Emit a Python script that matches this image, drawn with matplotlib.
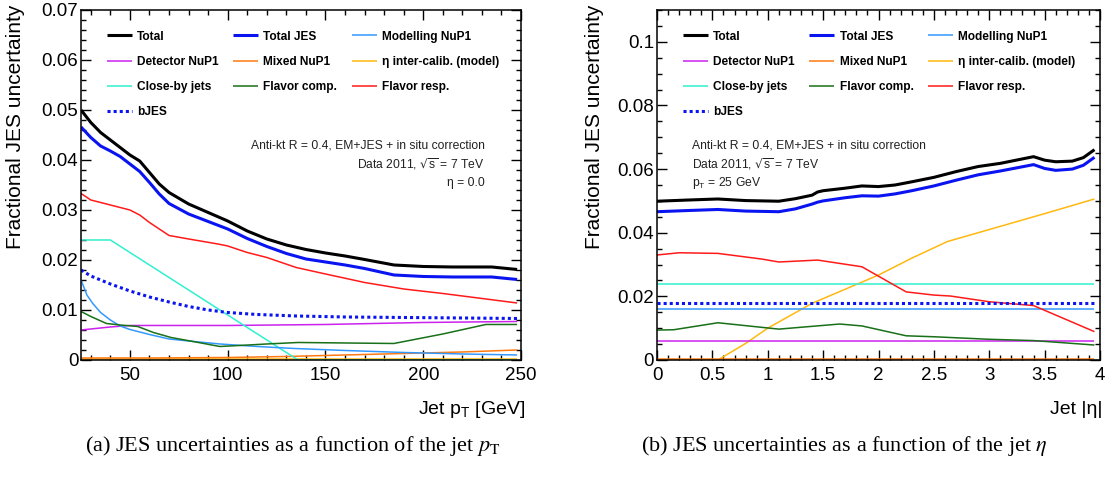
import matplotlib
matplotlib.use("Agg")
import matplotlib.pyplot as plt
from matplotlib.ticker import MultipleLocator

plt.rcParams['font.family'] = ['Liberation Sans', 'DejaVu Sans']

# ---- left panel: uncertainty vs jet pT (eta = 0) ----
pt_total = [25, 30, 35, 40, 45, 50, 55, 60, 65, 70, 80, 90, 100, 110, 120, 130, 140,
            150, 160, 170, 185, 200, 215, 235, 248]
total_pt = [0.0500, 0.0475, 0.0455, 0.0440, 0.0425, 0.0410, 0.0398, 0.0375, 0.0352,
            0.0335, 0.0312, 0.0295, 0.0278, 0.0258, 0.0242, 0.0230, 0.0221, 0.0214,
            0.0208, 0.0201, 0.0190, 0.0187, 0.0186, 0.0186, 0.0181]
totjes_pt = [0.0466, 0.0445, 0.0428, 0.0418, 0.0407, 0.0392, 0.0377, 0.0355, 0.0332,
             0.0313, 0.0292, 0.0277, 0.0262, 0.0243, 0.0227, 0.0213, 0.0202, 0.0196,
             0.0190, 0.0183, 0.0170, 0.0167, 0.0166, 0.0166, 0.0161]

pt_model = [25, 28, 31, 35, 40, 45, 50, 55, 60, 70, 80, 96, 115, 134, 160, 190, 220, 248]
model_pt = [0.0160, 0.0130, 0.0113, 0.0095, 0.0080, 0.0068, 0.0061, 0.0056, 0.0051,
            0.0042, 0.0038, 0.0032, 0.0027, 0.0023, 0.0019, 0.0015, 0.0012, 0.0010]

pt_det = [25, 40, 50, 100, 150, 200, 248]
det_pt = [0.0060, 0.0066, 0.0069, 0.0069, 0.0071, 0.0075, 0.0077]

pt_mixed = [25, 60, 100, 130, 160, 190, 220, 248]
mixed_pt = [0.0004, 0.0004, 0.0005, 0.0007, 0.0010, 0.0013, 0.0016, 0.0020]

pt_etaic = [25, 248]
etaic_pt = [0.0002, 0.0002]

pt_close = [25, 40, 136, 248]
close_pt = [0.024, 0.024, 0.0, 0.0]

pt_fcomp = [25, 30, 38, 45, 54, 62, 71, 85, 96, 106, 120, 136, 160, 185, 210, 232, 248]
fcomp_pt = [0.0097, 0.0087, 0.0073, 0.0070, 0.0067, 0.0055, 0.0045, 0.0035, 0.0027,
            0.0029, 0.0032, 0.0035, 0.0034, 0.0033, 0.0052, 0.0071, 0.0071]

pt_fresp = [25, 30, 40, 50, 55, 60, 70, 80, 95, 100, 110, 120, 135, 150, 170, 190, 210, 230, 248]
fresp_pt = [0.0333, 0.0320, 0.0310, 0.0300, 0.0290, 0.0275, 0.0249, 0.0242, 0.0232,
            0.0228, 0.0215, 0.0205, 0.0185, 0.0172, 0.0155, 0.0142, 0.0133, 0.0123, 0.0114]

pt_bjes = [25, 30, 35, 40, 50, 60, 70, 80, 90, 100, 115, 135, 160, 190, 220, 248]
bjes_pt = [0.0180, 0.0168, 0.0160, 0.0152, 0.0138, 0.0126, 0.0116, 0.0107, 0.0100,
           0.0095, 0.0091, 0.0088, 0.0086, 0.0085, 0.0084, 0.0083]

# ---- right panel: uncertainty vs |eta| (pT = 25 GeV) ----
eta_total = [0, 0.15, 0.3, 0.55, 0.8, 1.1, 1.25, 1.4, 1.45, 1.5, 1.7, 1.85, 2.0, 2.15,
             2.3, 2.5, 2.7, 2.9, 3.1, 3.4, 3.5, 3.6, 3.75, 3.85, 3.95]
total_eta = [0.0499, 0.0501, 0.0503, 0.0506, 0.0501, 0.0499, 0.0507, 0.0518, 0.0528,
             0.0532, 0.0540, 0.0547, 0.0545, 0.0550, 0.0560, 0.0574, 0.0592, 0.0608,
             0.0618, 0.0639, 0.0628, 0.0623, 0.0625, 0.0636, 0.0661]
totjes_eta = [0.0466, 0.0468, 0.0470, 0.0473, 0.0468, 0.0466, 0.0475, 0.0490, 0.0496,
              0.0500, 0.0510, 0.0516, 0.0515, 0.0522, 0.0532, 0.0547, 0.0565, 0.0582,
              0.0594, 0.0614, 0.0602, 0.0596, 0.0600, 0.0612, 0.0637]

eta_flat = [0, 3.95]
model_eta = [0.016, 0.016]
det_eta = [0.006, 0.006]
mixed_eta = [0.0003, 0.0003]
close_eta = [0.024, 0.024]
bjes_eta = [0.018, 0.018]

eta_ic = [0, 0.55, 0.8, 1.0, 1.4, 2.0, 2.3, 2.62, 3.0, 3.5, 3.95]
etaic_eta = [0.0, 0.0, 0.0052, 0.0100, 0.0178, 0.0267, 0.0320, 0.0372, 0.0410, 0.0460, 0.0506]

eta_fcomp = [0, 0.15, 0.55, 1.1, 1.65, 1.85, 2.25, 2.5, 3.0, 3.4, 3.95]
fcomp_eta = [0.0094, 0.0095, 0.0117, 0.0097, 0.0113, 0.0107, 0.0076, 0.0073, 0.0065, 0.0061, 0.0047]

eta_fresp = [0, 0.2, 0.55, 0.95, 1.1, 1.45, 1.85, 2.25, 2.5, 2.65, 3.0, 3.4, 3.95]
fresp_eta = [0.0330, 0.0337, 0.0335, 0.0317, 0.0308, 0.0314, 0.0293, 0.0214, 0.0204,
             0.0201, 0.0183, 0.0171, 0.0089]

labels = ['Total', 'Total JES', 'Modelling NuP1', 'Detector NuP1', 'Mixed NuP1',
          'η inter-calib. (model)', 'Close-by jets', 'Flavor comp.', 'Flavor resp.', 'bJES']
styles = [
    dict(color='black', lw=2.2),
    dict(color='#0a14f0', lw=2.2),
    dict(color='#3399ff', lw=1.1),
    dict(color='#cc22ee', lw=1.1),
    dict(color='#ff7a10', lw=1.1),
    dict(color='#ffb810', lw=1.1),
    dict(color='#30f0d0', lw=1.1),
    dict(color='#187018', lw=1.1),
    dict(color='#ff1a1a', lw=1.1),
    dict(color='#0a14f0', lw=2.2, ls=(0, (1, 1))),
]

fig = plt.figure(figsize=(11.1, 4.78), dpi=100)
ax1 = fig.add_axes([0.0730, 0.2469, 0.3964, 0.7322])
ax2 = fig.add_axes([0.5919, 0.2469, 0.3991, 0.7322])

left_series = [(pt_total, total_pt), (pt_total, totjes_pt), (pt_model, model_pt),
               (pt_det, det_pt), (pt_mixed, mixed_pt), (pt_etaic, etaic_pt),
               (pt_close, close_pt), (pt_fcomp, fcomp_pt), (pt_fresp, fresp_pt),
               (pt_bjes, bjes_pt)]
right_series = [(eta_total, total_eta), (eta_total, totjes_eta), (eta_flat, model_eta),
                (eta_flat, det_eta), (eta_flat, mixed_eta), (eta_ic, etaic_eta),
                (eta_flat, close_eta), (eta_fcomp, fcomp_eta), (eta_fresp, fresp_eta),
                (eta_flat, bjes_eta)]

# draw order: thin lines first, totals on top
order = [5, 4, 3, 6, 2, 7, 8, 9, 1, 0]
legend_order = [0, 3, 6, 9, 1, 4, 7, 2, 5, 8]

for ax, series in [(ax1, left_series), (ax2, right_series)]:
    handles = {}
    for i in order:
        x, y = series[i]
        h, = ax.plot(x, y, label=labels[i], solid_capstyle='butt', **styles[i])
        handles[i] = h
    hs = [handles[i] for i in legend_order]
    ax.legend(hs, [labels[i] for i in legend_order], ncol=3, loc='upper left',
              bbox_to_anchor=(0.058, 0.941), frameon=False, borderpad=0,
              borderaxespad=0, handlelength=2.1, handletextpad=0.45,
              columnspacing=1.2, labelspacing=1.1,
              prop=dict(family='Liberation Sans', weight='bold', size=8.6))
    ax.tick_params(which='both', direction='in', top=True, right=True,
                   labelsize=13.5, width=1.0)
    ax.tick_params(which='major', length=7.5)
    ax.tick_params(which='minor', length=3.8)
    ax.tick_params(axis='x', pad=5)
    ax.tick_params(axis='y', pad=2)
    for s in ax.spines.values():
        s.set_linewidth(1.1)

ax1.set_xlim(25, 250)
ax1.set_ylim(0, 0.07)
ax1.xaxis.set_major_locator(MultipleLocator(50))
ax1.xaxis.set_minor_locator(MultipleLocator(10))
ax1.yaxis.set_minor_locator(MultipleLocator(0.002))
ax1.set_yticks([0, 0.01, 0.02, 0.03, 0.04, 0.05, 0.06, 0.07],
               ['0', '0.01', '0.02', '0.03', '0.04', '0.05', '0.06', '0.07'])

ax2.set_xlim(0, 4)
ax2.set_ylim(0, 0.11)
ax2.xaxis.set_minor_locator(MultipleLocator(0.1))
ax2.yaxis.set_minor_locator(MultipleLocator(0.005))
ax2.set_yticks([0, 0.02, 0.04, 0.06, 0.08, 0.1], ['0', '0.02', '0.04', '0.06', '0.08', '0.1'])
ax2.set_xticks([0, 0.5, 1, 1.5, 2, 2.5, 3, 3.5, 4], ['0', '0.5', '1', '1.5', '2', '2.5', '3', '3.5', '4'])

# annotations
info_kw = dict(fontsize=8.7, color='#222222')
ax1.text(0.918, 0.614, 'Anti-kt R = 0.4, EM+JES + in situ correction', transform=ax1.transAxes,
         ha='right', va='center', **info_kw)
ax1.text(0.918, 0.560, r'Data 2011, $\sqrt{\mathregular{s}}$ = 7 TeV', transform=ax1.transAxes,
         ha='right', va='center', **info_kw)
ax1.text(0.918, 0.506, 'η = 0.0', transform=ax1.transAxes, ha='right', va='center', **info_kw)

ax2.text(0.080, 0.614, 'Anti-kt R = 0.4, EM+JES + in situ correction', transform=ax2.transAxes,
         ha='left', va='center', **info_kw)
ax2.text(0.080, 0.560, r'Data 2011, $\sqrt{\mathregular{s}}$ = 7 TeV', transform=ax2.transAxes,
         ha='left', va='center', **info_kw)
ax2.text(0.080, 0.506, r'p$_\mathregular{T}$ = 25 GeV', transform=ax2.transAxes,
         ha='left', va='center', **info_kw)

# axis titles (ROOT style: right/top aligned)
fig.text(525 / 1110, 1 - 410 / 478, r'Jet p$_\mathregular{T}$ [GeV]', ha='right', va='center', fontsize=14)
fig.text(1102 / 1110, 1 - 410 / 478, 'Jet |η|', ha='right', va='center', fontsize=14)
fig.text(16 / 1110, 0.99, 'Fractional JES uncertainty', rotation=90, ha='center', va='top', fontsize=15)
fig.text(594 / 1110, 0.99, 'Fractional JES uncertainty', rotation=90, ha='center', va='top', fontsize=15)

# captions
cap_kw = dict(ha='center', va='center', fontsize=16, family='Liberation Serif', math_fontfamily='stix')
fig.text(293 / 1110, 1 - 446 / 478, r'(a) JES uncertainties as a function of the jet $p_\mathrm{T}$', **cap_kw)
fig.text(844 / 1110, 1 - 446 / 478, r'(b) JES uncertainties as a function of the jet $\eta$', **cap_kw)

fig.savefig('out.png', dpi=100)
